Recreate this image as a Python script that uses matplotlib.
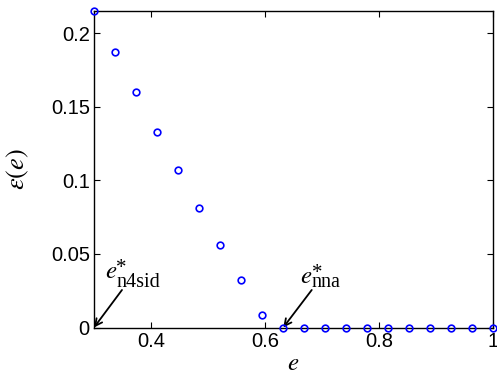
import matplotlib
matplotlib.use('Agg')
import matplotlib.pyplot as plt

# approximation error vs. threshold e
e_vals = [0.3, 0.337, 0.374, 0.411, 0.447, 0.484, 0.521, 0.558, 0.595, 0.632,
          0.668, 0.705, 0.742, 0.779, 0.816, 0.853, 0.889, 0.926, 0.963, 1.0]
eps_vals = [0.215, 0.187, 0.160, 0.133, 0.107, 0.081, 0.056, 0.032, 0.0086, 0.0,
            0.0, 0.0, 0.0, 0.0, 0.0, 0.0, 0.0, 0.0, 0.0, 0.0]
xticks = [0.4, 0.6, 0.8, 1.0]
xtick_labels = ['0.4', '0.6', '0.8', '1']
yticks = [0, 0.05, 0.1, 0.15, 0.2]
ytick_labels = ['0', '0.05', '0.1', '0.15', '0.2']

plt.rcParams['font.family'] = 'Liberation Sans'
plt.rcParams['mathtext.fontset'] = 'stix'

fig = plt.figure(figsize=(4.97, 3.74), dpi=100)
ax = fig.add_axes([94 / 497, 1 - 327.5 / 374, (493 - 94) / 497, (327.5 - 11) / 374])

ax.plot(e_vals, eps_vals, 'o', mfc='none', mec='#0000ff', ms=4.8, mew=1.2,
        clip_on=False, zorder=5)

ax.set_xlim(0.3, 1.0)
ax.set_ylim(0, 0.215)
ax.set_xticks(xticks)
ax.set_xticklabels(xtick_labels)
ax.set_yticks(yticks)
ax.set_yticklabels(ytick_labels)
ax.tick_params(direction='in', top=True, right=True, labelsize=14.5, length=4,
               width=0.8, pad=3)
for s in ax.spines.values():
    s.set_linewidth(1.0)

ax.set_xlabel(r'$e$', fontsize=18, labelpad=0)
ax.set_ylabel(r'$\varepsilon(e)$', fontsize=19, labelpad=14)


def star_label(x_e, y_e, x_sub, y_star, y_sub, sub):
    # e with a superscript star and a roman subscript
    ax.text(x_e, y_e, r'$e$', fontsize=18, ha='left', va='baseline')
    ax.text(x_sub, y_star, '*', fontsize=15, family='Liberation Serif',
            ha='left', va='baseline')
    ax.text(x_sub, y_sub, sub, fontsize=14.5, family='Liberation Serif',
            ha='left', va='baseline')


arrow = dict(arrowstyle='->,head_length=0.5,head_width=0.25', color='black',
             lw=1.3, shrinkA=0, shrinkB=0)

star_label(0.3193, 0.0336, 0.3386, 0.0370, 0.0275, 'n4sid')
ax.annotate('', xy=(e_vals[0], 0), xytext=(0.3491, 0.0255), arrowprops=arrow,
            annotation_clip=False)

star_label(0.6614, 0.0304, 0.6819, 0.0336, 0.0273, 'nna')
ax.annotate('', xy=(e_vals[9], 0), xytext=(0.682, 0.0255), arrowprops=arrow,
            annotation_clip=False)

fig.savefig('out.png', dpi=100)
